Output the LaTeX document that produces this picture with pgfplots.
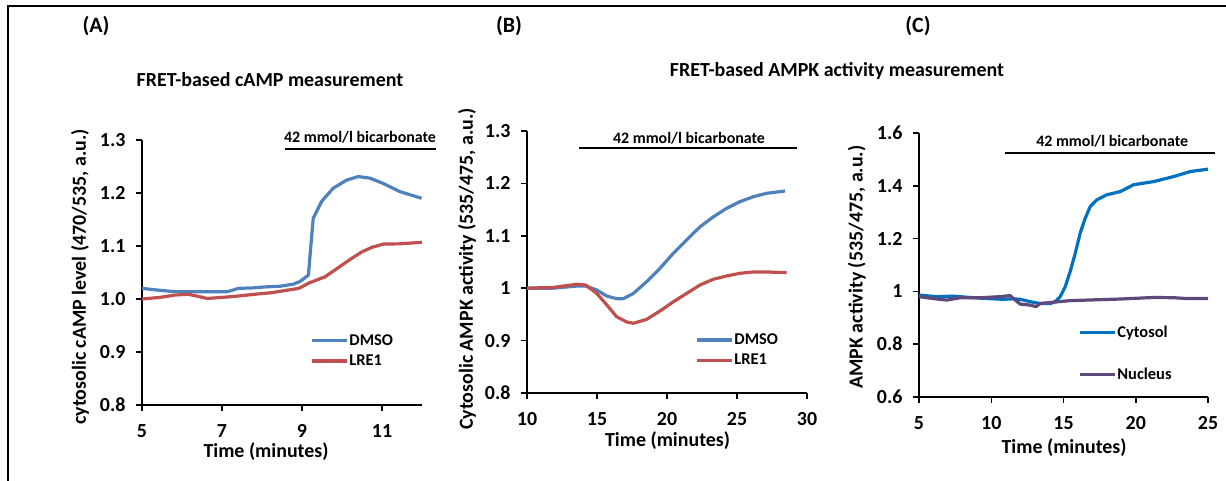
\documentclass[border=0pt]{standalone}
\usepackage{fontspec}
\setmainfont{Carlito}
\usepackage{pgfplots}
\pgfplotsset{compat=1.18}

\definecolor{dmso}{HTML}{4F81BD}
\definecolor{lre}{HTML}{C0504D}
\definecolor{cyto}{HTML}{0070C0}
\definecolor{nucl}{HTML}{5F497A}

\newcommand\fs[1]{\fontsize{#1}{#1}\selectfont\bfseries}

\pgfplotsset{
  panel/.style={
    scale only axis,
    anchor=south west,
    axis lines=left,
    axis line style={-, line width=1.8bp},
    tick align=outside,
    major tick length=6bp,
    tick style={black, line width=1.5bp},
    tick label style={font=\fs{20}},
    xticklabel style={yshift=-10bp},
    yticklabel style={xshift=-7bp},
    label style={font=\fs{20}},
    /pgf/number format/assume math mode=true,
    clip=false,
    legend style={draw=none, fill=none, font=\fs{16.5}, anchor=west,
      inner sep=0pt, row sep=6bp, nodes={inner sep=1bp}},
    legend cell align=left,
    legend image code/.code={\draw[##1] (0bp,0bp) -- (35bp,0bp);},
  },
  trace/.style={line width=3.2bp, line join=round},
}

\begin{document}
\begin{tikzpicture}[x=1bp,y=1bp]
\useasboundingbox (0,0) rectangle (1226,481);

% frame
\draw[line width=2.2bp] (7.8,0) -- (7.8,475.2) -- (1226,475.2);

% panel tags and headings
\node[font=\fs{22}, anchor=base] at (96,448) {(A)};
\node[font=\fs{22}, anchor=base] at (509,448) {(B)};
\node[font=\fs{22}, anchor=base] at (918,448) {(C)};
\node[font=\fs{20}, anchor=base] at (270,394) {FRET-based cAMP measurement};
\node[font=\fs{20}, anchor=base] at (837,404) {FRET-based AMPK activity measurement};

% (A) cAMP
\begin{axis}[panel, at={(142bp,76bp)}, width=280bp, height=265bp,
  xmin=5, xmax=12, ymin=0.8, ymax=1.3,
  xtick={5,7,9,11}, ytick={0.8,0.9,1.0,1.1,1.2,1.3},
  yticklabel style={/pgf/number format/.cd, fixed, fixed zerofill, precision=1},
  xlabel={Time (minutes)}, ylabel={cytosolic cAMP level (470/535, a.u.)},
  xlabel style={at={(axis description cs:0.443,-0.176)}, anchor=center},
  ylabel style={at={(axis description cs:-0.221,0.483)}, anchor=center},
  legend style={at={(axis description cs:0.6,0.204)}},
]
\addplot[trace, dmso] coordinates {
(5.0,1.020)(5.37,1.017)(5.78,1.014)(6.45,1.0135)(7.12,1.0135)(7.28,1.017)
(7.4,1.020)(7.78,1.021)(8.12,1.023)(8.45,1.024)(8.78,1.028)(8.95,1.033)
(9.16,1.045)(9.28,1.152)(9.49,1.184)(9.78,1.209)(10.12,1.2245)(10.41,1.231)
(10.7,1.228)(11.03,1.218)(11.45,1.2025)(11.99,1.190)};
\addlegendentry{DMSO}
\addplot[trace, lre] coordinates {
(5.0,1.0)(5.45,1.003)(5.83,1.0075)(6.15,1.009)(6.4,1.005)(6.63,1.001)
(7.0,1.003)(7.33,1.005)(7.83,1.009)(8.25,1.012)(8.58,1.016)(8.92,1.020)
(9.17,1.030)(9.58,1.042)(10.0,1.064)(10.25,1.077)(10.5,1.089)(10.75,1.0975)
(11.04,1.1038)(11.42,1.104)(12.0,1.107)};
\addlegendentry{LRE1}
\draw[line width=2.5bp] (axis cs:8.575,1.283) -- (axis cs:12.35,1.283);
\node[font=\fs{16}, anchor=base] at (axis cs:10.45,1.296) {42 mmol/l bicarbonate};
\end{axis}

% (B) cytosolic AMPK
\begin{axis}[panel, at={(527bp,88bp)}, width=280bp, height=262bp,
  xmin=10, xmax=30, ymin=0.8, ymax=1.3,
  xtick={10,15,20,25,30}, ytick={0.8,0.9,1,1.1,1.2,1.3},
  xlabel={Time (minutes)}, ylabel={Cytosolic AMPK activity (535/475, a.u.)},
  xlabel style={at={(axis description cs:0.502,-0.183)}, anchor=center},
  ylabel style={at={(axis description cs:-0.214,0.473)}, anchor=center},
  legend style={at={(axis description cs:0.6,0.164)}},
]
\addplot[trace, dmso] coordinates {
(10,1.0)(11.88,1.0)(13.55,1.004)(14.2,1.004)(14.98,0.9966)(15.7,0.985)
(16.4,0.980)(16.88,0.980)(17.6,0.990)(18.55,1.0125)(19.5,1.038)(20.45,1.0666)
(21.4,1.092)(22.35,1.117)(23.3,1.136)(24.26,1.1525)(25.2,1.165)(26.17,1.1746)
(27.1,1.181)(28.43,1.1855)};
\addlegendentry{DMSO}
\addplot[trace, lre] coordinates {
(10,1.0)(11.88,1.0015)(13.55,1.0074)(14.2,1.006)(14.98,0.990)(15.7,0.968)
(16.4,0.9456)(17.12,0.9355)(17.6,0.933)(18.55,0.9406)(19.5,0.9565)(20.45,0.974)
(21.4,0.990)(22.35,1.006)(23.3,1.017)(24.26,1.0233)(25.2,1.0284)(26.17,1.031)
(27.1,1.031)(28.55,1.0296)};
\addlegendentry{LRE1}
\draw[line width=2.5bp] (axis cs:13.71,1.2676) -- (axis cs:29.29,1.2676);
\node[font=\fs{16}, anchor=base] at (axis cs:21.57,1.277) {42 mmol/l bicarbonate};
\end{axis}

% (C) AMPK by compartment
\begin{axis}[panel, at={(919bp,84bp)}, width=289bp, height=264bp,
  xmin=5, xmax=25, ymin=0.6, ymax=1.6,
  xtick={5,10,15,20,25}, ytick={0.6,0.8,1,1.2,1.4,1.6},
  xlabel={Time (minutes)}, ylabel={AMPK activity (535/475, a.u.)},
  xlabel style={at={(axis description cs:0.502,-0.193)}, anchor=center},
  ylabel style={at={(axis description cs:-0.215,0.492)}, anchor=center},
  legend style={at={(axis description cs:0.55,0.166)}, row sep=27bp},
]
\addplot[trace, cyto] coordinates {
(5,0.986)(6.22,0.980)(7.38,0.982)(8.53,0.977)(9.69,0.973)(10.84,0.970)
(11.54,0.972)(12.0,0.970)(12.69,0.961)(13.38,0.954)(14.08,0.954)(14.42,0.961)
(14.77,0.980)(15.12,1.018)(15.46,1.075)(15.81,1.144)(16.15,1.220)(16.5,1.277)
(16.85,1.3215)(17.31,1.347)(18.0,1.366)(18.93,1.378)(19.85,1.404)(21.24,1.416)
(22.62,1.435)(23.78,1.454)(25.0,1.463)};
\addlegendentry{Cytosol}
\addplot[trace, nucl] coordinates {
(5,0.980)(5.99,0.973)(6.92,0.967)(7.84,0.976)(9.23,0.976)(10.6,0.980)
(11.3,0.984)(11.54,0.973)(12.0,0.952)(12.69,0.948)(13.1,0.942)(13.38,0.954)
(14.3,0.959)(15.46,0.965)(16.6,0.967)(18.9,0.971)(21.24,0.977)(22.62,0.976)
(23.54,0.973)(25,0.973)};
\addlegendentry{Nucleus}
\draw[line width=2.5bp] (axis cs:10.96,1.524) -- (axis cs:25.51,1.524);
\node[font=\fs{16}, anchor=base] at (axis cs:18.37,1.549) {42 mmol/l bicarbonate};
\end{axis}
\end{tikzpicture}
\end{document}
